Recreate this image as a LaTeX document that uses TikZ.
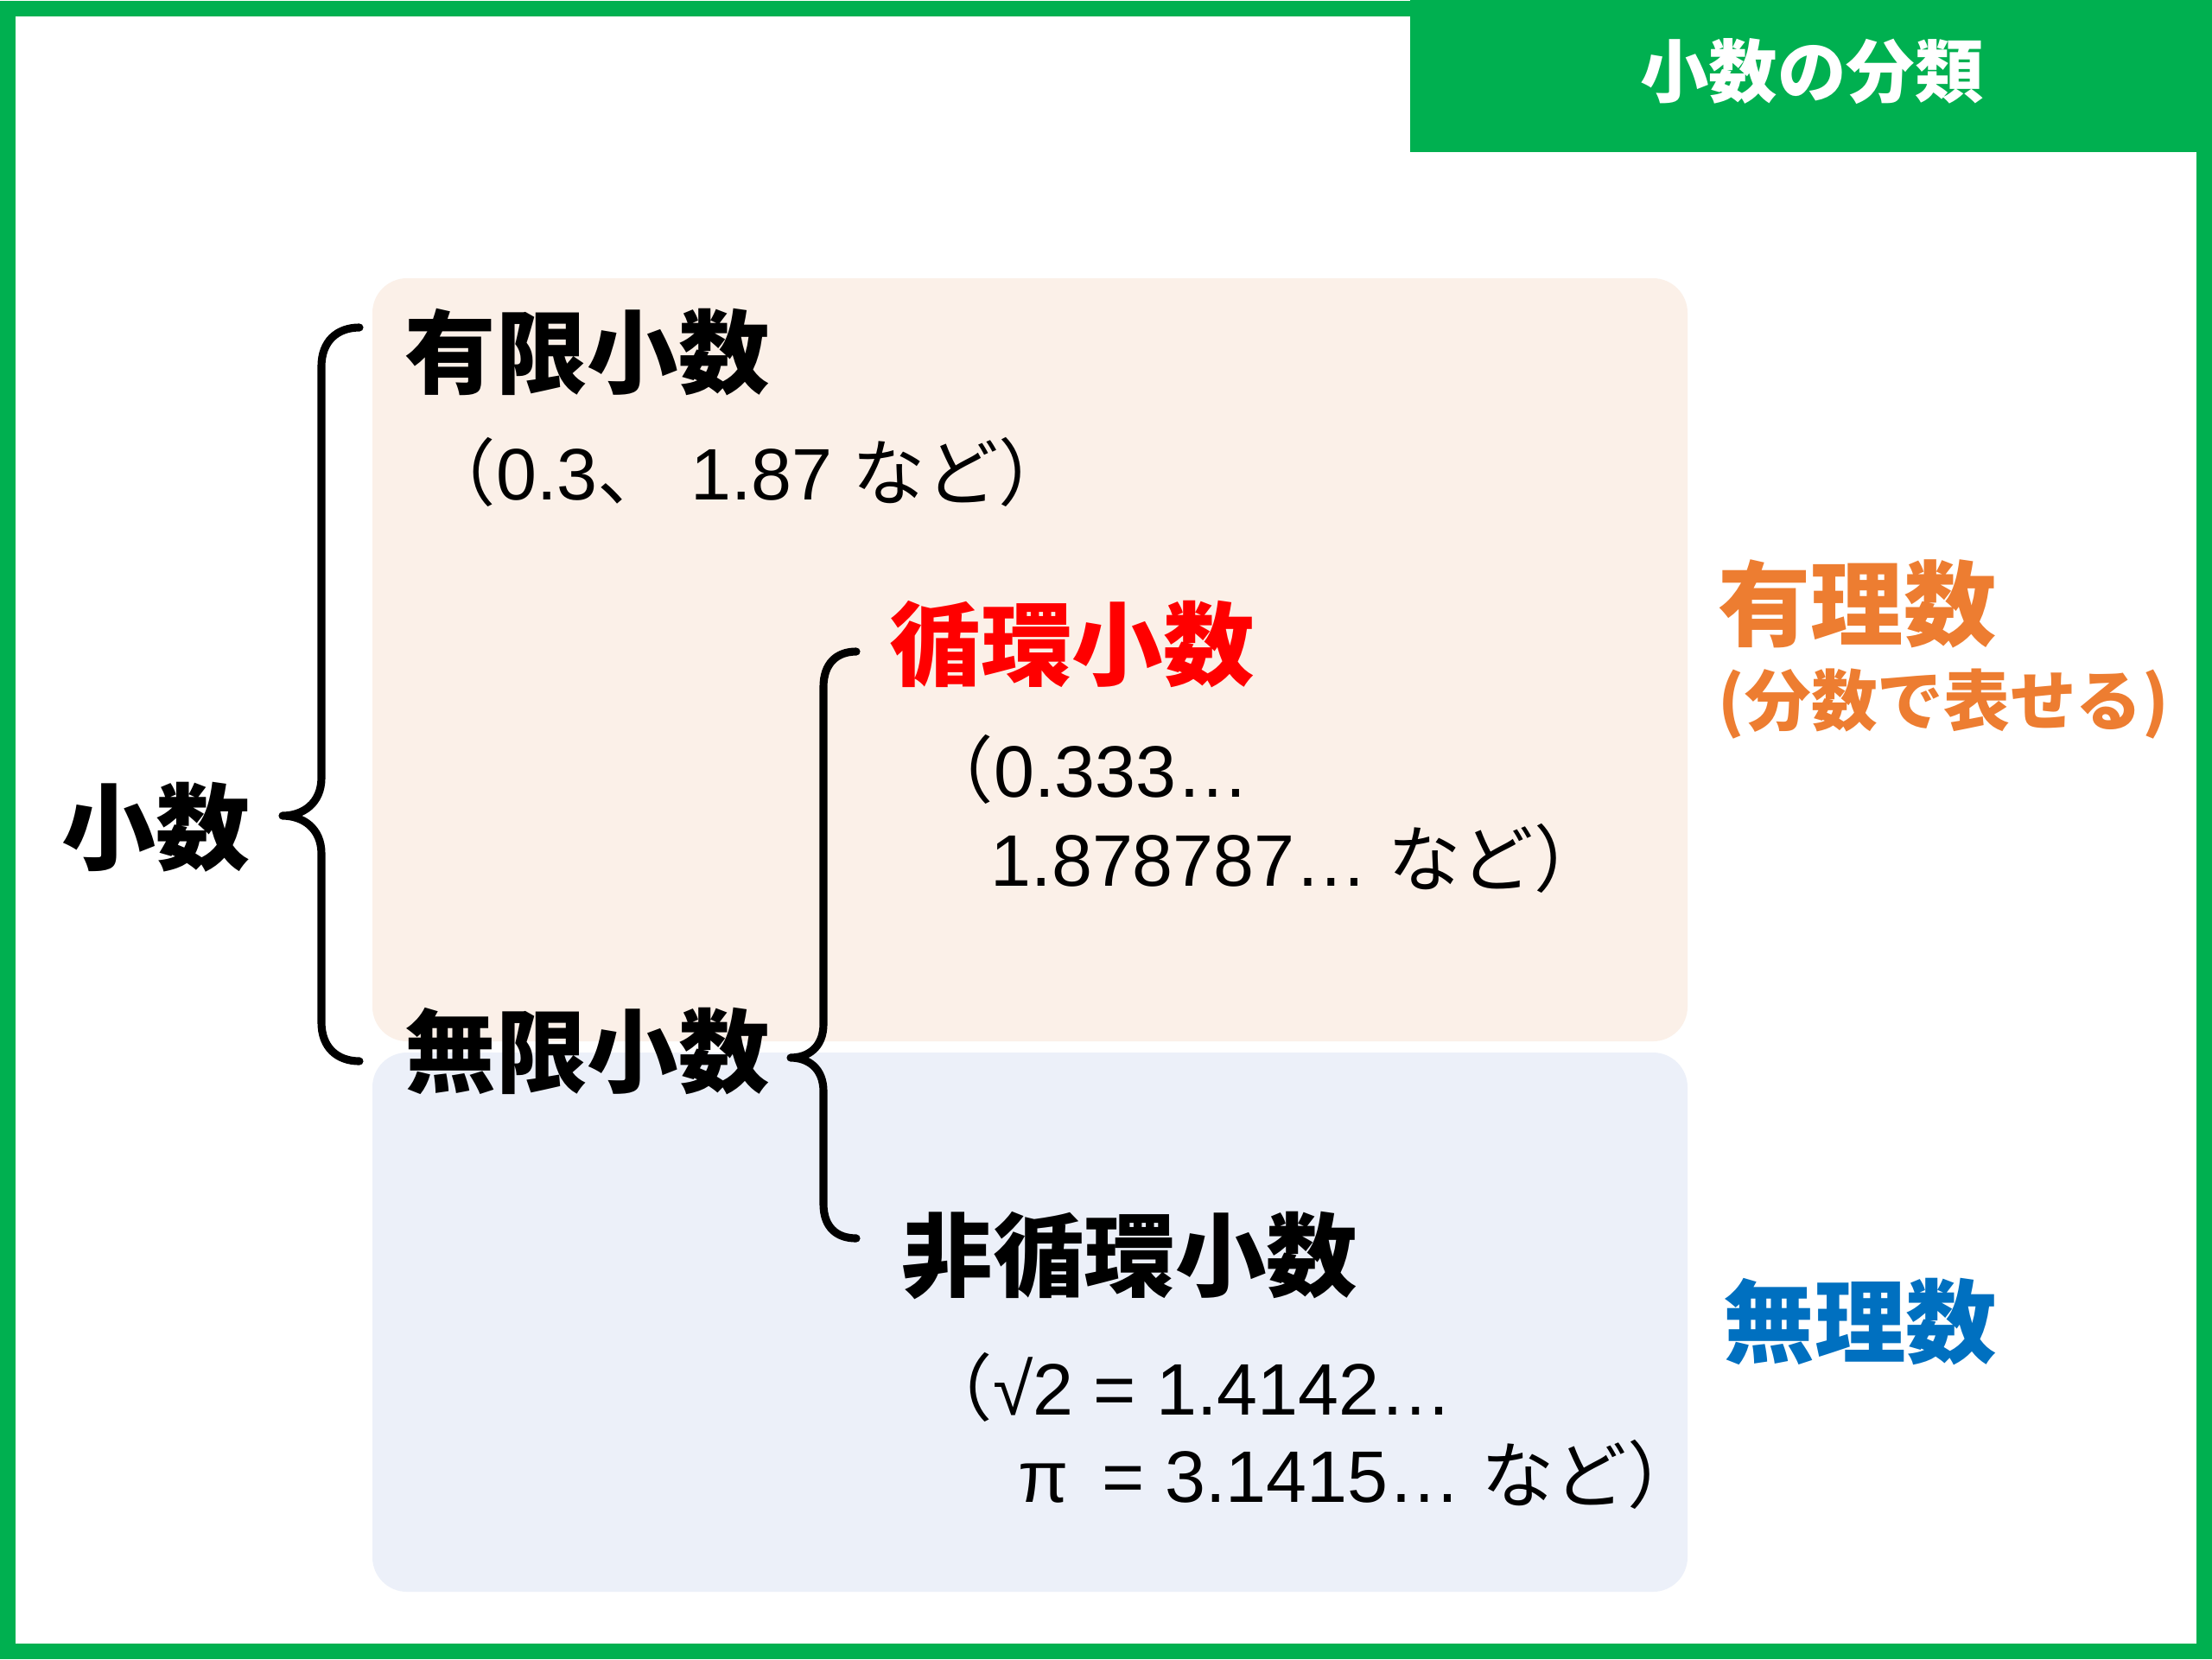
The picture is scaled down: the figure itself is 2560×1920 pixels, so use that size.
\documentclass[tikz,border=0pt]{standalone}
\usepackage{fontspec}
\setmainfont{Liberation Sans}
\newfontfamily\jp{Noto Sans CJK JP}
\definecolor{framegreen}{HTML}{00B050}
\definecolor{peach}{HTML}{FBF0E8}
\definecolor{bluebg}{HTML}{ECF0F9}
\definecolor{ratorange}{HTML}{ED7D31}
\definecolor{irrblue}{HTML}{0070C0}
\definecolor{cycred}{HTML}{FF0000}
\tikzset{
  head/.style={inner sep=0pt,anchor=west,font=\jp\bfseries\fontsize{30}{30}\selectfont},
  small/.style={inner sep=0pt,anchor=base west,font=\fontsize{24}{24}\selectfont},
  bracestroke/.style={line width=2.6pt,line cap=round,line join=round},
}
\begin{document}
\begin{tikzpicture}[x=0.01cm,y=-0.01cm]
\useasboundingbox (0,0) rectangle (2560,1920);
\fill[white] (0,0) rectangle (2560,1920);
% background panels
\fill[peach,rounded corners=0.4cm] (431,322) rectangle (1953,1205);
\fill[bluebg,rounded corners=0.4cm] (431,1218) rectangle (1953,1842);
% frame and title
\draw[framegreen,line width=5.1pt] (9,10) rectangle (2551,1911);
\fill[framegreen] (1632,0) rectangle (2560,176);
\node[inner sep=0pt,text=white,font=\jp\bfseries\fontsize{22.6}{22.6}\selectfont] (title) at (2097,83) {小数の分類};
% left column
\node[head,anchor=center,font=\jp\bfseries\fontsize{31}{31}\selectfont] (shosu) at (181,957) {小数};
\node[head] (yugen) at (468,408) {有限小数};
\node[small] (yugenEx) at (489,578) {{\jp （}0.3{\jp 、} 1.87 {\jp など）}};
\node[head,text=cycred] (junkan) at (1029,746) {循環小数};
\node[small] (junkanEx1) at (1065,922) {{\jp （}0.333…};
\node[small] (junkanEx2) at (1146,1025) {1.878787… {\jp など）}};
\node[head] (mugen) at (468,1217) {無限小数};
\node[head] (hijunkan) at (1043,1453) {非循環小数};
\node[small] (hijunkanEx1) at (1064,1637) {{\jp （}√2 = 1.4142…};
\node[small] (hijunkanEx2) at (1178,1738) {π\hspace{0.46em}= 3.1415… {\jp など）}};
% right column
\node[head,text=ratorange,font=\jp\bfseries\fontsize{30.5}{30.5}\selectfont] (yuri) at (1988,699) {有理数};
\node[inner sep=0pt,anchor=west,text=ratorange,font=\jp\bfseries\fontsize{21.8}{21.8}\selectfont] (yuriSub) at (1988,815) {(分数で表せる)};
\node[head,text=irrblue] (muri) at (1994,1530) {無理数};
% braces
\draw[bracestroke] (416,379) .. controls (390,379) and (372,395) .. (372,424)
  -- (372,900) .. controls (372,930) and (350,944) .. (327,944)
  .. controls (350,944) and (372,958) .. (372,988)
  -- (372,1183) .. controls (372,1212) and (390,1228) .. (416,1228);
\draw[bracestroke] (991,754) .. controls (968,754) and (953,768) .. (953,795)
  -- (953,1185) .. controls (953,1212) and (935,1224) .. (915,1224)
  .. controls (935,1224) and (953,1236) .. (953,1263)
  -- (953,1393) .. controls (953,1420) and (968,1433) .. (991,1433);
\end{tikzpicture}
\end{document}
